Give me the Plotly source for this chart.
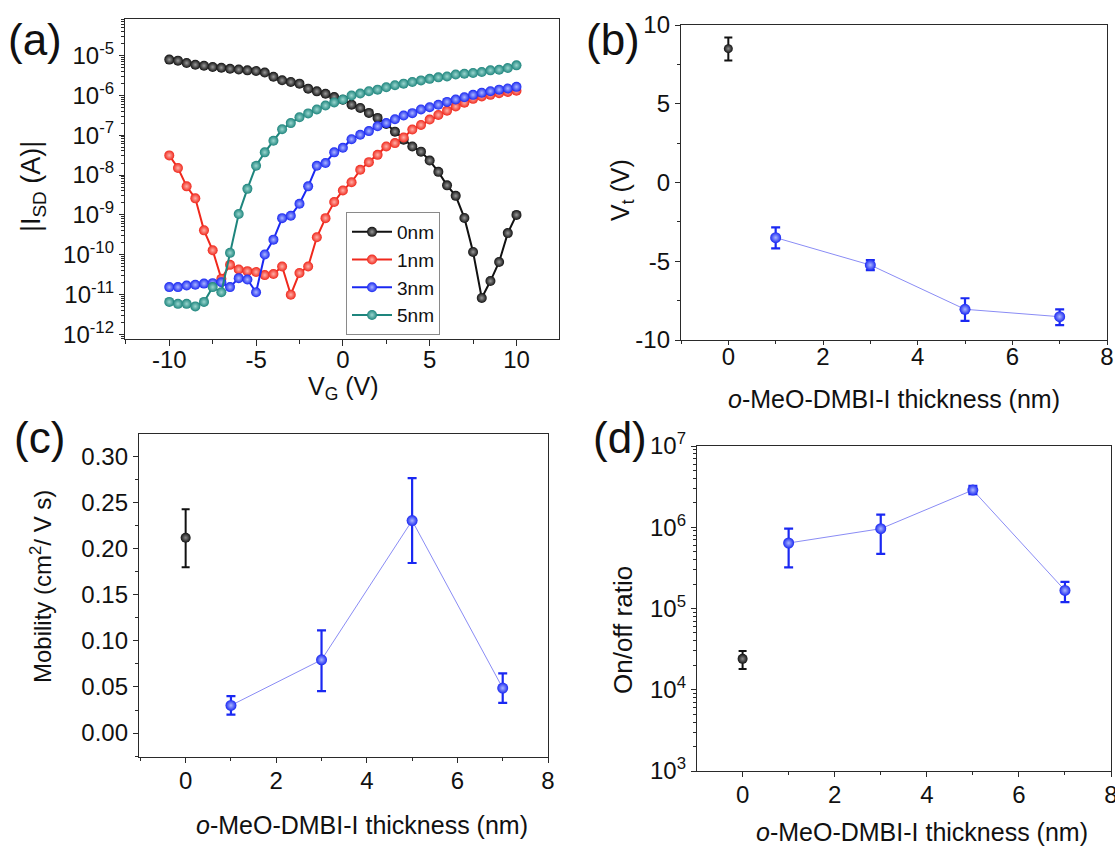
import plotly.graph_objects as go

FONT = "Arial, Liberation Sans, sans-serif"

# ---------------- Panel (a) data ----------------
VG = [-10, -9.5, -9, -8.5, -8, -7.5, -7, -6.5, -6, -5.5, -5, -4.5, -4, -3.5, -3, -2.5, -2, -1.5, -1, -0.5,
      0, 0.5, 1, 1.5, 2, 2.5, 3, 3.5, 4, 4.5, 5, 5.5, 6, 6.5, 7, 7.5, 8, 8.5, 9, 9.5, 10]

I_0nm = [7.8e-6, 7.35e-6, 6.4e-6, 5.8e-6, 5.5e-6, 5.1e-6, 4.9e-6, 4.6e-6, 4.4e-6, 4.2e-6,
         4.05e-6, 3.7e-6, 2.9e-6, 2.36e-6, 2.15e-6, 1.95e-6, 1.46e-6, 1.25e-6, 1.09e-6, 9.0e-7,
         7.7e-7, 5.8e-7, 4.8e-7, 3.6e-7, 2.7e-7, 1.9e-7, 1.22e-7, 7.7e-8, 5.2e-8, 3.85e-8,
         2.3e-8, 1.2e-8, 5.5e-9, 3.0e-9, 8.4e-10, 1.18e-10, 8.3e-12, 2.2e-11, 6.6e-11, 3.5e-10,
         1.0e-9]

I_1nm = [3.1e-8, 1.5e-8, 5.2e-9, 2.6e-9, 4.1e-10, 1.3e-10, 2.5e-11, 5.6e-11, 4.3e-11, 3.9e-11,
         3.7e-11, 3.1e-11, 3.3e-11, 5.1e-11, 1.0e-11, 3.5e-11, 5.1e-11, 2.75e-10, 8.3e-10, 2.1e-9,
         4.1e-9, 6.6e-9, 1.35e-8, 2.1e-8, 3.2e-8, 5.2e-8, 6.3e-8, 8.7e-8, 1.38e-7, 1.8e-7,
         2.45e-7, 3.2e-7, 4.1e-7, 5.2e-7, 6.5e-7, 8.1e-7, 9.3e-7, 1.02e-6, 1.12e-6, 1.2e-6,
         1.29e-6]

I_3nm = [1.55e-11, 1.55e-11, 1.7e-11, 1.78e-11, 1.9e-11, 1.95e-11, 2.05e-11, 1.55e-11, 2.6e-11, 2.4e-11,
         1.15e-11, 1.02e-10, 2.4e-10, 8.3e-10, 9.5e-10, 1.9e-9, 5.2e-9, 1.7e-8, 2.0e-8, 3.7e-8,
         4.8e-8, 7.9e-8, 1.02e-7, 1.26e-7, 1.66e-7, 2.0e-7, 2.5e-7, 3.1e-7, 3.55e-7, 4.4e-7,
         5.0e-7, 5.75e-7, 6.8e-7, 7.8e-7, 8.9e-7, 1.02e-6, 1.15e-6, 1.26e-6, 1.38e-6, 1.48e-6,
         1.62e-6]

I_5nm = [6.6e-12, 5.9e-12, 5.9e-12, 5.1e-12, 6.6e-12, 1.55e-11, 1.15e-11, 1.12e-10, 1.05e-9, 4.5e-9,
         1.7e-8, 3.7e-8, 7.2e-8, 1.4e-7, 2.0e-7, 2.8e-7, 3.5e-7, 4.4e-7, 5.5e-7, 6.6e-7,
         7.8e-7, 9.8e-7, 1.1e-6, 1.26e-6, 1.38e-6, 1.58e-6, 1.78e-6, 1.95e-6, 2.14e-6, 2.35e-6,
         2.57e-6, 2.8e-6, 2.95e-6, 3.3e-6, 3.45e-6, 3.6e-6, 3.8e-6, 4.2e-6, 4.35e-6, 4.8e-6,
         5.6e-6]

SERIES_NAMES = ["0nm", "1nm", "3nm", "5nm"]
SERIES_COLORS = ["#111111", "#f0281c", "#1a28f2", "#1e857d"]
SERIES_HIGHLIGHT = ["#9a9a9a", "#ffb0a8", "#aab6ff", "#9ad6cf"]

A_YTICK_EXP = [-12, -11, -10, -9, -8, -7, -6, -5]
A_XTICKS = [-10, -5, 0, 5, 10]
A_XTICK_TEXT = ["-10", "-5", "0", "5", "10"]

# ---------------- Panels (b)-(d) data ----------------
THK_REF = [0]
THK = [1, 3, 5, 7]

VT_REF = [8.5]
VT_REF_UP = [0.7]
VT_REF_DN = [0.75]
VT = [-3.5, -5.24, -8.05, -8.52]
VT_UP = [0.65, 0.32, 0.7, 0.47]
VT_DN = [0.68, 0.32, 0.74, 0.53]
B_YTICKS = [-10, -5, 0, 5, 10]
B_YTICK_TEXT = ["-10", "-5", "0", "5", "10"]

MOB_REF = [0.212]
MOB_REF_UP = [0.031]
MOB_REF_DN = [0.032]
MOB = [0.030, 0.0795, 0.2306, 0.0488]
MOB_UP = [0.010, 0.032, 0.046, 0.016]
MOB_DN = [0.010, 0.034, 0.046, 0.016]
C_YTICKS = [0, 0.05, 0.10, 0.15, 0.20, 0.25, 0.30]

ONOFF_REF = [2.4e4]
ONOFF_REF_UP = [0.6e4]
ONOFF_REF_DN = [0.6e4]
ONOFF = [6.4e5, 9.6e5, 2.87e6, 1.67e5]
ONOFF_UP = [3.2e5, 4.7e5, 0.37e6, 0.46e5]
ONOFF_DN = [3.2e5, 4.9e5, 0.32e6, 0.47e5]

D_YTICK_EXP = [3, 4, 5, 6, 7]
BCD_XTICKS = [0, 2, 4, 6, 8]

X_TITLE = "<i>o</i>-MeO-DMBI-I thickness (nm)"

fig = go.Figure()

# ---- panel (a) traces
for name, ys, col, hi in zip(SERIES_NAMES, [I_0nm, I_1nm, I_3nm, I_5nm], SERIES_COLORS, SERIES_HIGHLIGHT):
    fig.add_trace(go.Scatter(
        x=VG, y=ys, name=name, mode="lines+markers", xaxis="x", yaxis="y",
        line=dict(color=col, width=2),
        marker=dict(size=10, color=col, gradient=dict(type="radial", color=hi),
                    line=dict(width=0)),
    ))

BLUE = "#1a28f2"
BLUE_HI = "#aab6ff"
LINK = "#8a8cf5"


def add_panel(xa, ya, ref, ref_up, ref_dn, vals, up, dn, ref_size=10):
    fig.add_trace(go.Scatter(
        x=THK, y=vals, mode="lines", xaxis=xa, yaxis=ya, showlegend=False,
        line=dict(color=LINK, width=1), hoverinfo="skip"))
    fig.add_trace(go.Scatter(
        x=THK_REF, y=ref, mode="markers", xaxis=xa, yaxis=ya, showlegend=False,
        marker=dict(size=ref_size, color="#111111", gradient=dict(type="radial", color="#8a8a8a")),
        error_y=dict(type="data", symmetric=False, array=ref_up, arrayminus=ref_dn,
                     color="#111111", thickness=2, width=4)))
    fig.add_trace(go.Scatter(
        x=THK, y=vals, mode="markers", xaxis=xa, yaxis=ya, showlegend=False,
        marker=dict(size=11, color=BLUE, gradient=dict(type="radial", color=BLUE_HI)),
        error_y=dict(type="data", symmetric=False, array=up, arrayminus=dn,
                     color=BLUE, thickness=2.2, width=4.5)))


add_panel("x2", "y2", VT_REF, VT_REF_UP, VT_REF_DN, VT, VT_UP, VT_DN, ref_size=9)
add_panel("x3", "y3", MOB_REF, MOB_REF_UP, MOB_REF_DN, MOB, MOB_UP, MOB_DN)
add_panel("x4", "y4", ONOFF_REF, ONOFF_REF_UP, ONOFF_REF_DN, ONOFF, ONOFF_UP, ONOFF_DN)

W, H = 1115, 846


def dx(a, b):
    return [a / W, b / W]


def dy(top, bot):
    return [1 - bot / H, 1 - top / H]


LINE = "#2a2a2a"
axis_common = dict(showline=True, linecolor=LINE, linewidth=1.3, mirror=True,
                   showgrid=False, zeroline=False, ticks="outside", tickcolor=LINE,
                   tickwidth=1.3, color="#111111")

log_minor_a = [k * 10.0 ** e for e in range(-13, -3) for k in range(2, 10)]
log_minor_d = [k * 10.0 ** e for e in range(3, 7) for k in range(2, 10)]

TICK = 24

fig.update_layout(
    width=W, height=H, margin=dict(l=0, r=0, t=0, b=0, autoexpand=False),
    paper_bgcolor="white", plot_bgcolor="white",
    font=dict(family=FONT, color="#111111"),
    showlegend=True,
    legend=dict(x=346 / W, y=1 - 212 / H, xanchor="left", yanchor="top",
                bgcolor="white", bordercolor="#8a8a8a", borderwidth=1,
                font=dict(size=19, family=FONT), tracegroupgap=0, itemwidth=40),
    xaxis=dict(domain=dx(125, 559), anchor="y", range=[-12.55, 12.45],
               tickvals=A_XTICKS, ticktext=A_XTICK_TEXT, ticklen=6, ticklabelstandoff=-7,
               tickfont=dict(size=TICK),
               minor=dict(ticks="outside", dtick=2.5, tick0=0, ticklen=4, tickcolor=LINE),
               **axis_common),
    yaxis=dict(domain=dy(19, 339), anchor="x", type="log", range=[-12.11, -4.09],
               tickvals=[10.0 ** e for e in A_YTICK_EXP],
               ticktext=["10<sup>%d</sup>" % e for e in A_YTICK_EXP],
               ticklen=5, tickfont=dict(size=TICK),
               minor=dict(ticks="outside", tickmode="array", tickvals=log_minor_a,
                          ticklen=3, tickcolor=LINE),
               **axis_common),
    xaxis2=dict(domain=dx(681, 1107), anchor="y2", range=[-1, 8],
                tickvals=BCD_XTICKS, ticklen=4, ticklabelstandoff=-9, tickfont=dict(size=TICK),
                ticklabeloverflow="allow",
                minor=dict(ticks="outside", dtick=1, tick0=0, ticklen=3, tickcolor=LINE),
                **axis_common),
    yaxis2=dict(domain=dy(25, 340), anchor="x2", range=[-10, 10],
                tickvals=B_YTICKS, ticktext=B_YTICK_TEXT, ticklen=5, tickfont=dict(size=TICK),
                minor=dict(ticks="outside", dtick=2.5, tick0=0, ticklen=3, tickcolor=LINE),
                **axis_common),
    xaxis3=dict(domain=dx(139, 548), anchor="y3", range=[-1.03, 8],
                tickvals=BCD_XTICKS, ticklen=5, ticklabelstandoff=-3, tickfont=dict(size=TICK),
                minor=dict(ticks="outside", dtick=1, tick0=0, ticklen=3, tickcolor=LINE),
                **axis_common),
    yaxis3=dict(domain=dy(434, 757), anchor="x3", range=[-0.026, 0.3246],
                tickvals=C_YTICKS, tickformat=".2f",
                ticklen=5, tickfont=dict(size=TICK),
                minor=dict(ticks="outside", dtick=0.025, tick0=0, ticklen=3, tickcolor=LINE),
                **axis_common),
    xaxis4=dict(domain=dx(697, 1111), anchor="y4", range=[-0.99, 8],
                tickvals=BCD_XTICKS, ticklen=5, ticklabelstandoff=-3, tickfont=dict(size=TICK),
                ticklabeloverflow="allow",
                minor=dict(ticks="outside", dtick=1, tick0=0, ticklen=3, tickcolor=LINE),
                **axis_common),
    yaxis4=dict(domain=dy(446, 771), anchor="x4", type="log", range=[3, 7],
                tickvals=[10.0 ** e for e in D_YTICK_EXP],
                ticktext=["10<sup>%d</sup>" % e for e in D_YTICK_EXP],
                ticklen=5, tickfont=dict(size=TICK),
                minor=dict(ticks="outside", tickmode="array", tickvals=log_minor_d,
                           ticklen=3, tickcolor=LINE),
                **axis_common),
)


def ann(text, x, y, size, angle=0, xanchor="center", yanchor="middle"):
    fig.add_annotation(text=text, x=x / W, y=1 - y / H, xref="paper", yref="paper",
                       showarrow=False, textangle=angle, xanchor=xanchor, yanchor=yanchor,
                       font=dict(size=size, family=FONT, color="#111111"))


# panel labels
ann("(a)", 35, 39, 44)
ann("(b)", 613, 40, 44)
ann("(c)", 39, 437, 44)
ann("(d)", 620, 437, 44)

# axis titles
ann("|I<sub>SD</sub> (A)|", 33, 187, 27, angle=-90)
ann("V<sub>G</sub> (V)", 343, 388, 25)
ann("V<sub>t</sub> (V)", 622, 190, 25, angle=-90)
ann(X_TITLE, 894, 399, 25)
ann("Mobility (cm<sup>2</sup>/ V s)", 41, 587, 24, angle=-90)
ann(X_TITLE, 362, 825, 25)
ann("On/off ratio", 623, 630, 26, angle=-90)
ann(X_TITLE, 922, 832, 25)

fig.write_html("out.html")
